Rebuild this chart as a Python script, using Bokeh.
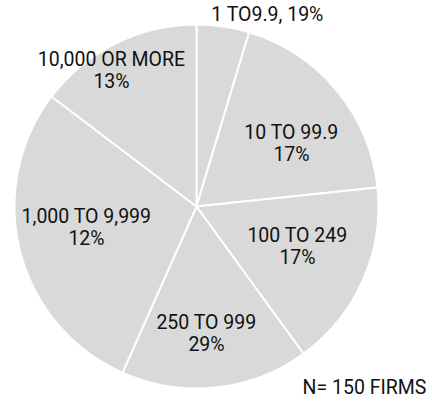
import math
from bokeh.plotting import figure
from bokeh.models import ColumnDataSource, Range1d
from bokeh.core.properties import value
from bokeh.embed import file_html
from bokeh.resources import INLINE

# ---- data (number of firms per revenue band, N = 150) ----
categories = ["1 TO9.9", "10 TO 99.9", "100 TO 249", "250 TO 999", "1,000 TO 9,999", "10,000 OR MORE"]
firm_counts = [7, 28, 25, 25, 43, 22]
label_texts = ["1 TO9.9, 19%", "10 TO 99.9\n17%", "100 TO 249\n17%", "250 TO 999\n29%",
               "1,000 TO 9,999\n12%", "10,000 OR MORE\n13%"]
note_text = "N= 150 FIRMS"

# ---- layout (pixel offsets of the labels from the pie centre) ----
W, H = 432, 401
CX, CY = 196, 206          # pie centre on screen
R = 182
label_screen = [(267, 14), (291, 143), (297, 246), (206, 333), (86, 227), (111, 70)]
note_screen = (364, 387)

total = sum(firm_counts)
starts, ends = [], []
cum = 0
for c in firm_counts:
    starts.append(math.pi / 2 - 2 * math.pi * cum / total)
    cum += c
    ends.append(math.pi / 2 - 2 * math.pi * cum / total)

src = ColumnDataSource(dict(cat=categories, n=firm_counts, start=starts, end=ends))

p = figure(width=W, height=H, output_backend="svg", toolbar_location=None,
           x_range=Range1d(-CX, W - CX), y_range=Range1d(CY - H, CY),
           min_border=0, outline_line_color=None)
p.axis.visible = False
p.grid.visible = False
p.background_fill_color = "white"
p.border_fill_color = "white"

p.wedge(x=0, y=0, radius=R, start_angle="start", end_angle="end", direction="clock",
        fill_color="#d9d9d9", line_color="white", line_width=2, source=src)

lx = [sx - CX for sx, sy in label_screen]
ly = [CY - sy for sx, sy in label_screen]
lsrc = ColumnDataSource(dict(x=lx, y=ly, t=label_texts))
p.text(x="x", y="y", text="t", source=lsrc, text_align="center", text_baseline="middle",
       text_font=value("Roboto"), text_font_size="19.5px", text_color="#111111",
       text_line_height=0.98)

p.text(x=[note_screen[0] - CX], y=[CY - note_screen[1]], text=[note_text],
       text_align="center", text_baseline="middle",
       text_font=value("Roboto"), text_font_size="19.5px", text_color="#111111")

open("out.html", "w").write(file_html(p, INLINE))
